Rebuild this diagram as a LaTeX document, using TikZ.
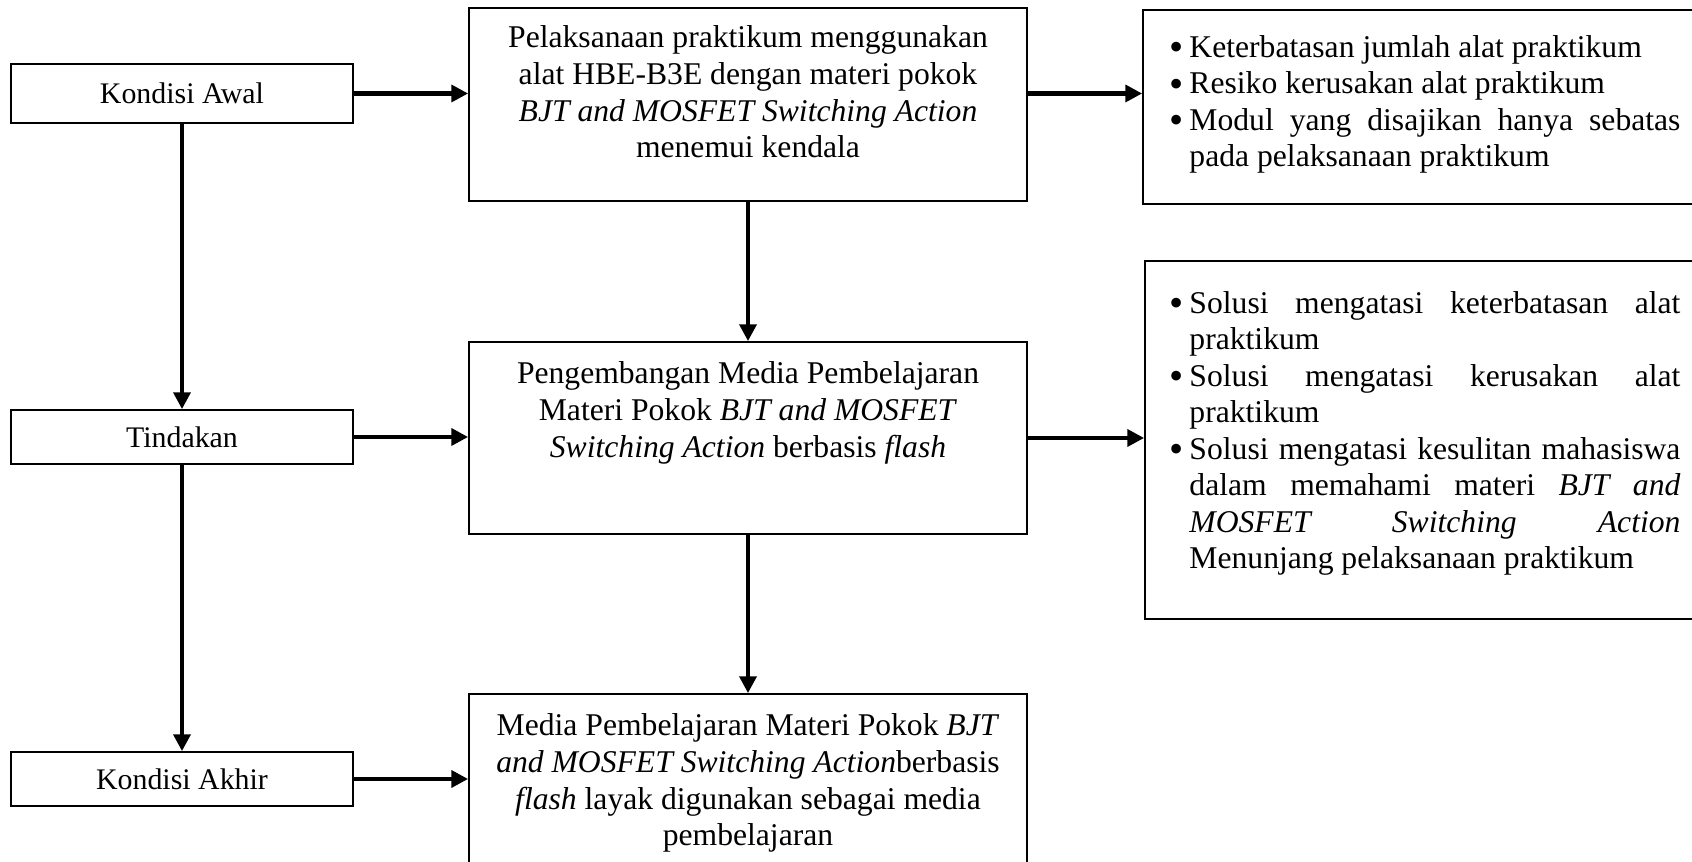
\documentclass[tikz,border=0pt]{standalone}
\usepackage{fontspec}
\setmainfont{Liberation Serif}
\usetikzlibrary{arrows.meta}
\newcommand\hurufisi{\fontsize{18}{20.8}\selectfont}
\newcommand\hurufkiri{\fontsize{17}{20}\selectfont}
\newcommand\butir[1]{\par\hangindent=0.4cm\hangafter=1\noindent\makebox[0.4cm][l]{\smash{\raisebox{-0.25ex}{\fontsize{23}{20}\selectfont\textbullet}}}#1\par}

\begin{document}
\begin{tikzpicture}[x=1cm,y=1cm,
  kotak/.style={draw,line width=1pt,inner sep=0pt},
  kiri/.style={kotak,minimum width=6.84cm,minimum height=1.08cm,font=\hurufkiri},
  tengah/.style={kotak,minimum width=11.16cm},
  teks/.style={inner sep=0pt,align=center,font=\hurufisi},
  daftar/.style={inner sep=0pt,text width=10.22cm,align=justify,font=\hurufisi},
  panah/.style={line width=2.3pt,-{Triangle[length=9.5pt,width=9.5pt]}}]
\useasboundingbox (0,0) rectangle (33.84,17.24);
\clip (0,0) rectangle (33.84,17.24);
\node[kiri,minimum height=1.18cm] (awal) at (3.64,15.37) {Kondisi Awal};
\node[kiri] (tindakan) at (3.64,8.50) {Tindakan};
\node[kiri] (akhir) at (3.64,1.66) {Kondisi Akhir};
\node[tengah,minimum height=3.86cm] (pelaksanaan) at (14.96,15.15) {};
\node[tengah,minimum height=3.84cm] (pengembangan) at (14.96,8.48) {};
\node[tengah,minimum height=3.86cm] (media) at (14.96,1.43) {};
\node[kotak,minimum width=11.14cm,minimum height=3.88cm] (kendala) at (28.43,15.10) {};
\node[kotak,minimum width=11.10cm,minimum height=7.16cm] (solusi) at (28.45,8.44) {};
\node[teks,anchor=north] (tpelaksanaan) at ([yshift=-0.37cm]pelaksanaan.north) {Pelaksanaan praktikum menggunakan\\alat HBE-B3E dengan materi pokok\\\textit{BJT and MOSFET Switching Action}\\menemui kendala};
\node[teks,anchor=north] (tpengembangan) at ([yshift=-0.41cm]pengembangan.north) {Pengembangan Media Pembelajaran\\Materi Pokok \textit{BJT and MOSFET}\\\textit{Switching Action} berbasis \textit{flash}};
\node[teks,anchor=north] (tmedia) at ([yshift=-0.41cm]media.north) {Media Pembelajaran Materi Pokok \textit{BJT}\\\textit{and MOSFET Switching Action}berbasis\\\textit{flash} layak digunakan sebagai media\\pembelajaran};
\node[daftar,anchor=north west] (tkendala) at ([xshift=0.54cm,yshift=-0.22cm]kendala.north west) {%
\butir{Keterbatasan jumlah alat praktikum}%
\butir{Resiko kerusakan alat praktikum}%
\butir{Modul yang disajikan hanya sebatas\linebreak pada pelaksanaan praktikum}};
\node[daftar,anchor=north west] (tsolusi) at ([xshift=0.50cm,yshift=-0.32cm]solusi.north west) {%
\butir{Solusi mengatasi keterbatasan alat\linebreak praktikum}%
\butir{Solusi mengatasi kerusakan alat\linebreak praktikum}%
\butir{Solusi mengatasi kesulitan mahasiswa\linebreak dalam memahami materi \textit{BJT and}\linebreak \textit{MOSFET Switching Action}\linebreak Menunjang pelaksanaan praktikum}};
\draw[panah] (awal.east) -- (awal.east -| pelaksanaan.west);
\draw[panah] (pelaksanaan.east |- awal.east) -- (kendala.west |- awal.east);
\draw[panah] (tindakan.east) -- (tindakan.east -| pengembangan.west);
\draw[panah] (pengembangan.east) -- (pengembangan.east -| solusi.west);
\draw[panah] (akhir.east) -- (akhir.east -| media.west);
\draw[panah] (awal.south) -- (tindakan.north);
\draw[panah] (tindakan.south) -- (akhir.north);
\draw[panah] (pelaksanaan.south) -- (pengembangan.north);
\draw[panah] (pengembangan.south) -- (media.north);
\end{tikzpicture}
\end{document}
